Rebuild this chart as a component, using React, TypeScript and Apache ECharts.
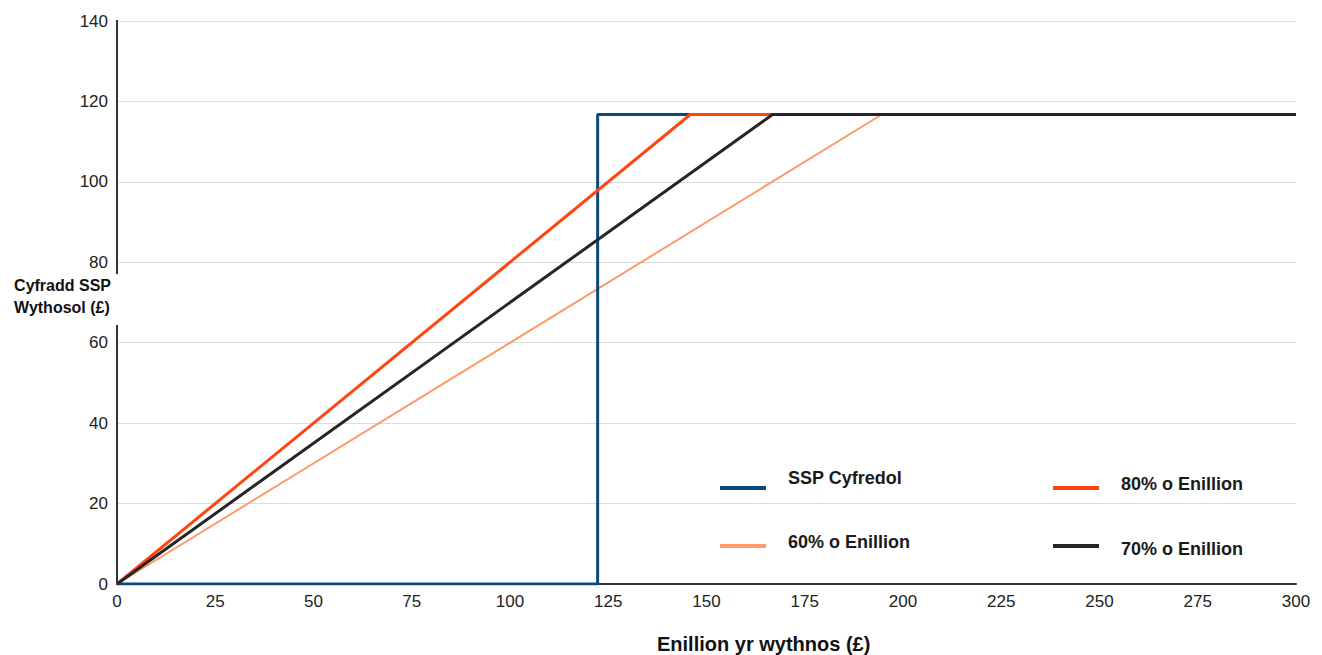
import React, { useEffect, useRef } from "react";
import * as echarts from "echarts";

const sspCurrent: number[][] = [[0, 0], [122.3, 0], [122.3, 116.75], [300, 116.75]];
const pct80: number[][] = [[0, 0], [145.9, 116.75], [300, 116.75]];
const pct70: number[][] = [[0, 0], [166.8, 116.75], [300, 116.75]];
const pct60: number[][] = [[0, 0], [194.6, 116.75], [300, 116.75]];
const seriesNames = ["SSP Cyfredol", "80% o Enillion", "60% o Enillion", "70% o Enillion"];
const seriesColors = ["#0d4a7c", "#ff4512", "#ff9a6a", "#262626"];
const seriesWidths = [3, 3, 2, 3];

function lineIcon(center: number): string {
  // 46 x 24 box, line of height 4 centred at "center"; tiny corner marks fix the bounds
  return (
    "path://M0,0h0.01v0.01h-0.01z M0,23.99h0.01v0.01h-0.01z M0," +
    (center - 2) +
    "h46v4h-46z"
  );
}

export default function App() {
  const ref = useRef<HTMLDivElement>(null);
  useEffect(() => {
    if (!ref.current) return;
    const chart = echarts.init(ref.current, null, { renderer: "svg" });
    const font = "Liberation Sans, Arial, sans-serif";
    const dataSets = [sspCurrent, pct80, pct60, pct70];
    // left of icon, y of the legend line, vertical text shift (negative = up)
    const legendPos = [
      { left: 720, lineY: 488, shift: -10 },
      { left: 1053, lineY: 488, shift: -4 },
      { left: 720, lineY: 546, shift: -4 },
      { left: 1053, lineY: 546, shift: 3 },
    ];
    chart.setOption({
      animation: false,
      backgroundColor: "#ffffff",
      grid: { left: 117, right: 26, top: 21, bottom: 71, containLabel: false },
      legend: seriesNames.map((n, i) => {
        const p = legendPos[i];
        const c = 12 - p.shift;
        return {
          data: [{ name: n, icon: lineIcon(c) }],
          left: p.left,
          top: p.lineY - c,
          padding: 0,
          itemWidth: 46,
          itemHeight: 24,
          itemGap: 10,
          textStyle: {
            fontFamily: font,
            fontSize: 18,
            fontWeight: "bold",
            color: "#1a1a1a",
            padding: [0, 0, 0, 17],
          },
          selectedMode: false,
        };
      }),
      xAxis: [
        {
          type: "value",
          min: 0,
          max: 300,
          interval: 25,
          axisLine: { show: true, lineStyle: { color: "#cfcfcf", width: 1 } },
          axisTick: { show: false },
          axisLabel: { fontFamily: font, fontSize: 17, color: "#222", margin: 9 },
          splitLine: { show: false },
        },
        {
          type: "value",
          position: "top",
          min: 0,
          max: 300,
          interval: 25,
          axisLine: { show: true, lineStyle: { color: "#333", width: 2 } },
          axisTick: { show: false },
          axisLabel: { show: false },
          splitLine: { show: false },
        },
      ],
      yAxis: [
        {
          type: "value",
          min: 0,
          max: 140,
          interval: 20,
          axisLine: { show: true, lineStyle: { color: "#333", width: 2 } },
          axisTick: { show: false },
          axisLabel: { fontFamily: font, fontSize: 17, color: "#222", margin: 9 },
          splitLine: { show: true, lineStyle: { color: "#dcdcdc", width: 1 } },
        },
        {
          type: "value",
          position: "right",
          min: 0,
          max: 140,
          interval: 20,
          axisLine: { show: true, lineStyle: { color: "#333", width: 2 } },
          axisTick: { show: false },
          axisLabel: { show: false },
          splitLine: { show: false },
        },
      ],
      graphic: [
        {
          type: "text",
          right: 1322 - 119,
          top: 274,
          z: 100,
          style: {
            text: "Cyfradd SSP\nWythosol (£)",
            fontFamily: font,
            fontSize: 16,
            fontWeight: "bold",
            fill: "#111",
            align: "right",
            lineHeight: 22,
            backgroundColor: "#ffffff",
            padding: [0, 8, 7, 2],
          },
        },
        {
          type: "text",
          left: 657,
          top: 634,
          style: {
            text: "Enillion yr wythnos (£)",
            fontFamily: font,
            fontSize: 20,
            fontWeight: "bold",
            fill: "#111",
          },
        },
      ],
      series: seriesNames.map((n, i) => ({
        name: n,
        type: "line",
        data: dataSets[i],
        showSymbol: false,
        symbol: "none",
        color: seriesColors[i],
        lineStyle: { color: seriesColors[i], width: seriesWidths[i] },
        z: i === 3 ? 5 : i === 1 ? 4 : i === 0 ? 3 : 2,
      })),
    });
    return () => chart.dispose();
  }, []);
  return (
    <div
      ref={ref}
      style={{ position: "absolute", left: 0, top: 0, width: 1322, height: 655 }}
    />
  );
}
